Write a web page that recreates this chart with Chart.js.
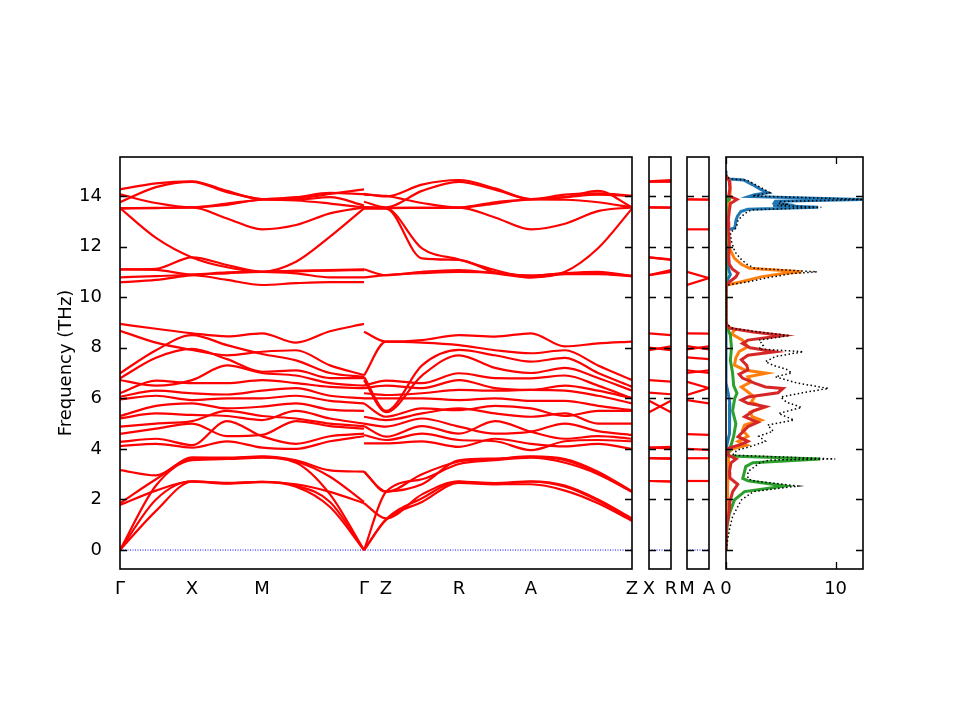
<!DOCTYPE html>
<html>
<head>
<meta charset="utf-8">
<script src="https://cdn.jsdelivr.net/npm/chart.js@4.4.1/dist/chart.umd.min.js"></script>
<style>
  html, body { margin: 0; padding: 0; background: #fff; }
  #wrap { position: relative; width: 960px; height: 720px; }
  #wrap canvas { position: absolute; left: 0; top: 0; }
</style>
</head>
<body>
<div id="wrap">
  <canvas id="bands" width="960" height="720"></canvas>
  <canvas id="xr" width="960" height="720"></canvas>
  <canvas id="ma" width="960" height="720"></canvas>
  <canvas id="dos" width="960" height="720"></canvas>
</div>
<script>
// phonon bands + projected DOS

const yMin = -0.75, yMax = 15.54;
const yTicks = [0, 2, 4, 6, 8, 10, 12, 14];

// high-symmetry points along the path
const kTicks = [0, 72, 142, 244, 266, 339, 411, 512];
const kLabels = ['Γ', 'X', 'M', 'Γ', 'Z', 'R', 'A', 'Z'];

// sample positions of the two path pieces
const kPathGXMG = [0, 36, 72, 107, 142, 176, 210, 244];
const kPathGZRAZ = [244, 266, 302, 339, 375, 411, 445, 478, 512];

// frequencies (THz) on Γ-X-M-Γ
const bandsGXMG = [
  [14.26, 14.5, 14.58, 14.2, 13.87, 13.9, 14.08, 14.26],
  [13.75, 14.35, 14.56, 14.15, 13.88, 13.85, 13.95, 13.62],
  [14.06, 13.72, 13.55, 13.7, 13.86, 13.95, 14.12, 14.07],
  [13.52, 13.53, 13.55, 13.65, 13.85, 13.82, 13.7, 13.55],
  [13.52, 12.34, 11.57, 11.18, 11.0, 11.4, 12.39, 13.51],
  [13.5, 13.52, 13.55, 13.11, 12.68, 12.85, 13.31, 13.55],
  [11.1, 11.12, 11.57, 11.27, 11.0, 11.05, 11.07, 11.1],
  [10.78, 10.83, 10.87, 10.68, 10.48, 10.55, 10.59, 10.59],
  [10.59, 10.68, 10.87, 10.94, 11.0, 10.94, 10.78, 10.78],
  [11.1, 11.08, 10.9, 10.98, 11.0, 11.02, 11.05, 11.07],
  [8.94, 8.75, 8.57, 8.45, 8.57, 8.2, 8.65, 8.94],
  [8.67, 8.2, 7.91, 7.7, 7.84, 7.9, 7.3, 6.92],
  [6.99, 7.9, 8.5, 8.1, 7.75, 7.5, 7.0, 6.85],
  [6.79, 7.6, 7.95, 7.55, 7.05, 7.1, 6.8, 6.8],
  [6.72, 6.5, 6.72, 7.3, 7.0, 6.9, 6.6, 6.5],
  [6.2, 6.7, 6.6, 6.6, 6.72, 6.6, 6.45, 6.4],
  [6.06, 6.3, 6.2, 6.15, 6.3, 6.4, 6.1, 6.0],
  [5.96, 6.1, 5.93, 6.0, 6.0, 6.1, 5.9, 5.8],
  [5.3, 5.7, 5.8, 5.6, 5.67, 5.8, 5.55, 5.5],
  [5.21, 5.4, 5.34, 5.3, 5.14, 5.5, 5.2, 5.0],
  [4.88, 5.0, 5.1, 5.5, 5.3, 5.2, 5.0, 4.9],
  [4.59, 4.8, 5.0, 4.5, 4.55, 5.1, 4.9, 4.8],
  [4.28, 4.4, 4.15, 5.1, 4.5, 4.2, 4.5, 4.6],
  [4.11, 4.2, 4.05, 4.3, 4.05, 4.0, 4.3, 4.5],
  [0, 1.55, 2.7, 2.62, 2.68, 2.5, 1.7, 0],
  [0, 2.0, 2.72, 2.64, 2.7, 2.55, 1.9, 0],
  [0, 2.55, 3.55, 3.6, 3.65, 3.45, 2.2, 0],
  [1.78, 2.35, 2.72, 2.66, 2.7, 2.6, 2.3, 1.85],
  [1.85, 2.8, 3.6, 3.63, 3.68, 3.5, 2.9, 1.9],
  [3.16, 2.95, 3.66, 3.65, 3.7, 3.55, 3.15, 3.1]
];

// frequencies (THz) on Γ-Z-R-A-Z
const bandsGZRAZ = [
  [14.08, 13.98, 14.45, 14.63, 14.3, 13.87, 13.95, 14.2, 13.55],
  [13.77, 13.55, 14.2, 14.56, 14.25, 13.88, 14.05, 14.1, 14.0],
  [14.05, 14.0, 13.72, 13.54, 13.7, 13.86, 13.85, 13.75, 13.55],
  [13.55, 13.52, 13.53, 13.54, 13.15, 12.68, 12.9, 13.4, 13.55],
  [13.55, 13.53, 13.53, 13.54, 13.75, 13.86, 13.95, 14.05, 14.0],
  [13.55, 13.52, 11.93, 11.49, 11.07, 10.78, 11.0, 11.93, 13.5],
  [13.5, 13.5, 11.53, 11.47, 10.98, 10.85, 10.95, 11.0, 10.83],
  [11.1, 10.87, 11.0, 11.07, 10.94, 10.78, 10.91, 10.91, 10.83],
  [10.78, 10.87, 10.95, 11.0, 10.97, 10.85, 10.93, 10.93, 10.85],
  [8.63, 8.24, 8.3, 8.5, 8.44, 8.57, 8.05, 8.17, 8.24],
  [6.9, 8.24, 8.2, 8.1, 7.9, 7.78, 7.9, 7.3, 6.72],
  [6.85, 5.5, 7.3, 7.91, 7.7, 7.45, 7.6, 7.0, 6.46],
  [6.72, 5.45, 6.9, 7.7, 7.2, 7.0, 7.2, 6.8, 6.3],
  [6.5, 6.7, 6.6, 6.99, 6.8, 6.79, 6.9, 6.5, 6.0],
  [6.4, 6.5, 6.4, 6.72, 6.4, 6.33, 6.5, 6.3, 6.0],
  [6.2, 6.13, 6.2, 6.33, 6.3, 6.33, 6.3, 6.1, 5.8],
  [6.0, 6.0, 6.0, 5.93, 6.0, 5.9, 5.9, 5.7, 5.53],
  [5.8, 5.27, 5.6, 5.53, 5.7, 5.6, 5.3, 5.5, 5.5],
  [5.27, 5.14, 5.4, 5.6, 5.4, 5.27, 5.4, 5.0, 5.0],
  [5.0, 4.88, 5.2, 4.88, 4.6, 4.68, 5.0, 4.7, 4.55],
  [4.9, 4.48, 4.9, 4.6, 5.1, 4.68, 4.4, 4.5, 4.4],
  [4.55, 4.35, 4.6, 4.35, 4.3, 3.95, 4.3, 4.35, 4.3],
  [4.22, 4.22, 4.3, 4.08, 4.4, 4.2, 4.1, 4.2, 4.0],
  [0, 1.19, 1.9, 2.65, 2.6, 2.7, 2.5, 1.95, 1.2],
  [0, 1.22, 2.05, 2.7, 2.65, 2.72, 2.55, 2.0, 1.25],
  [0, 2.3, 2.8, 3.4, 3.55, 3.65, 3.45, 3.0, 2.3],
  [1.85, 1.25, 2.2, 2.72, 2.6, 2.6, 2.35, 1.85, 1.15],
  [3.1, 2.3, 3.0, 3.5, 3.6, 3.68, 3.55, 3.05, 2.3],
  [3.1, 2.32, 2.6, 3.55, 3.62, 3.7, 3.6, 3.1, 2.32]
];

// X-R and M-A side panels: value at left end / right end
const xrLabels = ['X', 'R'];
const xrLeft  = [14.58, 14.56, 13.55, 13.55, 11.57, 11.57, 10.87, 10.87, 8.57, 8.0, 7.9, 6.72, 6.22, 5.9, 5.45, 4.05, 4.05, 3.63, 3.63, 2.73, 2.73];
const xrRight = [14.63, 14.56, 13.54, 13.54, 11.49, 11.47, 11.07, 11.0, 8.5, 7.9, 8.05, 6.66, 6.16, 5.45, 5.9, 4.08, 4.02, 3.6, 3.63, 2.7, 2.72];
const maLabels = ['M', 'A'];
const maLeft  = [13.86, 13.87, 12.68, 11.0, 10.48, 8.57, 8.06, 7.93, 7.62, 7.1, 7.0, 6.65, 6.13, 5.93, 4.58, 4.0, 3.63, 2.73];
const maRight = [13.85, 13.86, 12.68, 10.75, 10.75, 8.56, 7.93, 8.05, 7.55, 7.0, 7.1, 6.4, 6.4, 5.8, 4.55, 3.96, 3.63, 2.73];

// projected DOS: frequency (THz) and states
const dosTicks = [0, 10];
const totF = [15.0, 14.75, 14.67, 14.63, 14.4, 14.13, 14.0, 13.86, 13.78, 13.7, 13.67, 13.62, 13.55, 13.45, 13.3, 13.05, 12.75, 12.55, 12.2, 11.8, 11.53, 11.3, 11.14, 11.0, 10.93, 10.75, 10.6, 10.48, 10.4, 9.0, 8.9, 8.77, 8.62, 8.48, 8.3, 8.1, 7.95, 7.84, 7.65, 7.45, 7.3, 7.15, 7.0, 6.85, 6.6, 6.39, 6.22, 6.05, 5.85, 5.64, 5.4, 5.14, 4.94, 4.7, 4.5, 4.3, 4.1, 3.95, 3.75, 3.6, 3.56, 3.45, 3.1, 2.83, 2.74, 2.53, 2.31, 1.98, 1.32, 0.79, 0.13, 0];
const totD = [0, 0.05, 0.4, 1.9, 2.9, 4.0, 2.4, 12.7, 4.8, 4.9, 5.7, 4.7, 8.7, 2.3, 1.7, 1.1, 0.95, 0.4, 0.5, 0.8, 1.3, 1.9, 2.6, 8.3, 6.0, 3.6, 2.0, 0.15, 0, 0, 0.15, 0.6, 3.0, 5.8, 3.0, 3.4, 3.0, 7.05, 4.5, 3.6, 4.3, 5.5, 6.0, 4.5, 6.5, 9.35, 7.0, 5.0, 5.5, 6.9, 4.8, 6.2, 3.8, 4.3, 3.0, 3.6, 2.3, 1.0, 0.6, 9.97, 4.0, 3.1, 2.0, 2.0, 2.4, 6.59, 2.5, 1.4, 0.6, 0.3, 0.05, 0];
const blueF = [15.0, 14.75, 14.67, 14.63, 14.45, 14.25, 14.13, 14.05, 13.98, 13.86, 13.79, 13.72, 13.67, 13.62, 13.55, 13.47, 13.38, 13.2, 13.05, 12.85, 12.72, 12.66, 12.5, 11.5, 11.0, 10.9, 10.7, 10.4, 9.0, 6.6, 6.2, 5.8, 5.4, 5.0, 4.6, 4.2, 3.9, 0];
const blueD = [0, 0, 0.3, 1.6, 2.4, 3.2, 3.8, 2.6, 2.1, 12.4, 4.5, 4.4, 5.3, 4.3, 8.4, 2.0, 1.35, 1.05, 0.92, 0.85, 0.77, 0.1, 0.02, 0.05, 0.3, 0.4, 0.15, 0, 0, 0, 0.2, 0.35, 0.3, 0.35, 0.3, 0.1, 0, 0];
const orangeF = [14.8, 14.6, 14.3, 14.0, 13.8, 13.5, 13.0, 12.6, 12.3, 11.9, 11.53, 11.3, 11.14, 11.0, 10.93, 10.8, 10.65, 10.48, 10.4, 9.0, 8.85, 8.7, 8.55, 8.3, 8.04, 7.85, 7.6, 7.31, 7.12, 6.99, 6.85, 6.65, 6.45, 6.25, 6.05, 5.85, 5.64, 5.45, 5.27, 5.14, 4.94, 4.75, 4.5, 4.3, 4.15, 4.0, 3.85, 3.7, 3.2, 2.5, 1.5, 0.5, 0];
const orangeD = [0, 0.3, 0.4, 0.35, 0.3, 0.2, 0.15, 0.1, 0.2, 0.35, 0.77, 1.4, 2.15, 6.9, 5.2, 3.2, 1.8, 0.1, 0, 0, 0.1, 0.8, 0.5, 1.5, 2.0, 1.2, 0.9, 0.77, 1.7, 3.7, 2.0, 2.3, 1.4, 2.0, 2.6, 2.3, 3.5, 2.2, 2.4, 3.2, 1.7, 1.5, 2.0, 1.1, 1.9, 0.6, 0.2, 0.25, 0.2, 0.15, 0.12, 0.03, 0];
const greenF = [14.0, 13.88, 13.75, 9.0, 8.8, 8.5, 8.0, 7.5, 7.0, 6.5, 6.2, 6.0, 5.5, 5.0, 4.5, 4.2, 3.8, 3.72, 3.6, 3.45, 3.3, 3.1, 2.83, 2.74, 2.53, 2.31, 1.98, 1.45, 0.92, 0.13, 0];
const greenD = [0, 0.3, 0, 0, 0.1, 0.4, 0.5, 0.4, 0.6, 0.7, 1.0, 0.8, 0.6, 0.9, 0.7, 0.5, 0.2, 0.3, 8.6, 2.45, 1.8, 1.69, 1.53, 2.0, 5.37, 1.69, 0.77, 0.31, 0.09, 0.01, 0];
const redF = [14.8, 14.6, 14.3, 14.0, 13.86, 13.7, 13.4, 13.0, 12.6, 12.2, 11.6, 11.3, 11.1, 10.95, 10.8, 10.6, 10.45, 9.0, 8.9, 8.77, 8.62, 8.48, 8.3, 8.17, 8.0, 7.84, 7.7, 7.52, 7.3, 7.12, 6.95, 6.8, 6.6, 6.45, 6.39, 6.22, 6.05, 5.93, 5.8, 5.67, 5.5, 5.27, 5.05, 4.88, 4.7, 4.48, 4.3, 4.2, 4.02, 3.9, 3.75, 3.6, 3.45, 3.1, 2.85, 2.6, 2.31, 1.9, 1.6, 0.92, 0];
const redD = [0, 0.3, 0.35, 0.25, 1.0, 0.4, 0.3, 0.2, 0.25, 0.3, 0.25, 0.3, 0.6, 1.1, 0.9, 0.3, 0, 0, 0.1, 0.3, 2.5, 5.2, 2.0, 1.5, 2.2, 4.45, 2.0, 1.4, 1.9, 2.0, 1.2, 1.5, 2.6, 3.6, 5.2, 4.75, 2.0, 1.4, 2.0, 3.6, 2.5, 1.7, 2.9, 2.0, 1.6, 1.1, 2.0, 1.5, 0.2, 0.15, 0.2, 0.92, 0.46, 0.31, 0.35, 1.07, 0.61, 0.35, 0.31, 0.05, 0];

Chart.defaults.font.family = "'DejaVu Sans', sans-serif";
Chart.defaults.font.size = 18;
Chart.defaults.color = '#000';

// matplotlib-like frame with inward ticks
const frameTicks = {
  id: 'frameTicks',
  afterDraw(chart, args, opts) {
    const { ctx, chartArea: a, scales } = chart;
    const L = 7;
    ctx.save();
    ctx.strokeStyle = '#000';
    ctx.lineWidth = 1.3;
    ctx.beginPath();
    scales.y.ticks.forEach(t => {
      const py = Math.round(scales.y.getPixelForValue(t.value)) + 0.5;
      if (opts.left) { ctx.moveTo(a.left, py); ctx.lineTo(a.left + L, py); }
      if (opts.right) { ctx.moveTo(a.right, py); ctx.lineTo(a.right - L, py); }
    });
    if (opts.xTicks) {
      scales.x.ticks.forEach(t => {
        const px = Math.round(scales.x.getPixelForValue(t.value)) + 0.5;
        ctx.moveTo(px, a.bottom); ctx.lineTo(px, a.bottom - L);
        ctx.moveTo(px, a.top); ctx.lineTo(px, a.top + L);
      });
    }
    ctx.stroke();
    ctx.lineWidth = 1.6;
    ctx.strokeRect(a.left, a.top, a.right - a.left, a.bottom - a.top);
    ctx.restore();
  }
};
Chart.register(frameTicks);

function yScale(width, showLabels, title) {
  return {
    type: 'linear', min: yMin, max: yMax,
    grid: { display: false }, border: { display: false },
    ticks: { display: showLabels, padding: 10 },
    afterBuildTicks: s => { s.ticks = yTicks.map(v => ({ value: v })); },
    afterFit: s => { s.width = width; },
    title: title ? { display: true, text: title, padding: { top: 4, bottom: 4 } } : { display: false }
  };
}

function xScale(min, max, ticks, labels) {
  return {
    type: 'linear', min: min, max: max,
    grid: { display: false }, border: { display: false },
    ticks: { autoSkip: false, maxRotation: 0, minRotation: 0, padding: 2,
             callback: (v, i) => labels[i] },
    afterBuildTicks: s => { s.ticks = ticks.map(v => ({ value: v })); },
    afterFit: s => { s.height = 40; }
  };
}

function redLine(points, smooth) {
  return {
    data: points, borderColor: '#ff0000', borderWidth: 2.2,
    pointRadius: 0, fill: false,
    cubicInterpolationMode: smooth ? 'monotone' : 'default', tension: 0
  };
}

function zeroLine(x0, x1) {
  return {
    data: [{ x: x0, y: 0 }, { x: x1, y: 0 }],
    borderColor: '#0000ff', borderWidth: 1, borderDash: [1, 1.5],
    pointRadius: 0, fill: false
  };
}

const baseOptions = (pad) => ({
  responsive: false, animation: false, events: [],
  layout: { padding: pad },
  plugins: { legend: { display: false }, tooltip: { enabled: false } }
});

// main band structure
const bandSets = [];
bandsGXMG.forEach(b => bandSets.push(redLine(kPathGXMG.map((x, i) => ({ x: x, y: b[i] })), true)));
bandsGZRAZ.forEach(b => bandSets.push(redLine(kPathGZRAZ.map((x, i) => ({ x: x, y: b[i] })), true)));
bandSets.push(zeroLine(0, 512));

new Chart(document.getElementById('bands'), {
  type: 'line',
  data: { datasets: bandSets },
  options: Object.assign(baseOptions({ left: 52, right: 328, top: 157, bottom: 111 }), {
    scales: {
      x: xScale(0, 512, kTicks, kLabels),
      y: yScale(68, true, 'Frequency (THz)')
    },
    plugins: { legend: { display: false }, tooltip: { enabled: false },
               frameTicks: { left: true, right: true } }
  })
});

// narrow side panels
function sidePanel(id, left, right, labels, lv, rv) {
  const sets = lv.map((v, i) => redLine([{ x: 0, y: v }, { x: 1, y: rv[i] }], false));
  sets.push(zeroLine(0, 1));
  new Chart(document.getElementById(id), {
    type: 'line',
    data: { datasets: sets },
    options: Object.assign(baseOptions({ left: left, right: 960 - right, top: 157, bottom: 111 }), {
      scales: { x: xScale(0, 1, [0, 1], labels), y: yScale(0, false, null) },
      plugins: { legend: { display: false }, tooltip: { enabled: false },
                 frameTicks: { left: true, right: true } }
    })
  });
}
sidePanel('xr', 649, 671, xrLabels, xrLeft, xrRight);
sidePanel('ma', 687, 709, maLabels, maLeft, maRight);

// DOS panel
function dosLine(f, d, color, width, dash) {
  return {
    data: f.map((v, i) => ({ x: d[i], y: v })),
    borderColor: color, borderWidth: width, borderDash: dash || [],
    pointRadius: 0, fill: false, tension: 0
  };
}

new Chart(document.getElementById('dos'), {
  type: 'line',
  data: {
    datasets: [
      dosLine(totF, totD, '#000000', 1.5, [1.5, 2.5]),
      dosLine(redF, redD, '#d62728', 3),
      dosLine(greenF, greenD, '#2ca02c', 3),
      dosLine(orangeF, orangeD, '#ff7f0e', 3),
      dosLine(blueF, blueD, '#1f77b4', 3)
    ]
  },
  options: Object.assign(baseOptions({ left: 726, right: 97, top: 157, bottom: 111 }), {
    scales: {
      x: xScale(0, 12.5, dosTicks, dosTicks.map(String)),
      y: yScale(0, false, null)
    },
    plugins: { legend: { display: false }, tooltip: { enabled: false },
               frameTicks: { left: true, right: true, xTicks: true } }
  })
});
</script>
</body>
</html>
